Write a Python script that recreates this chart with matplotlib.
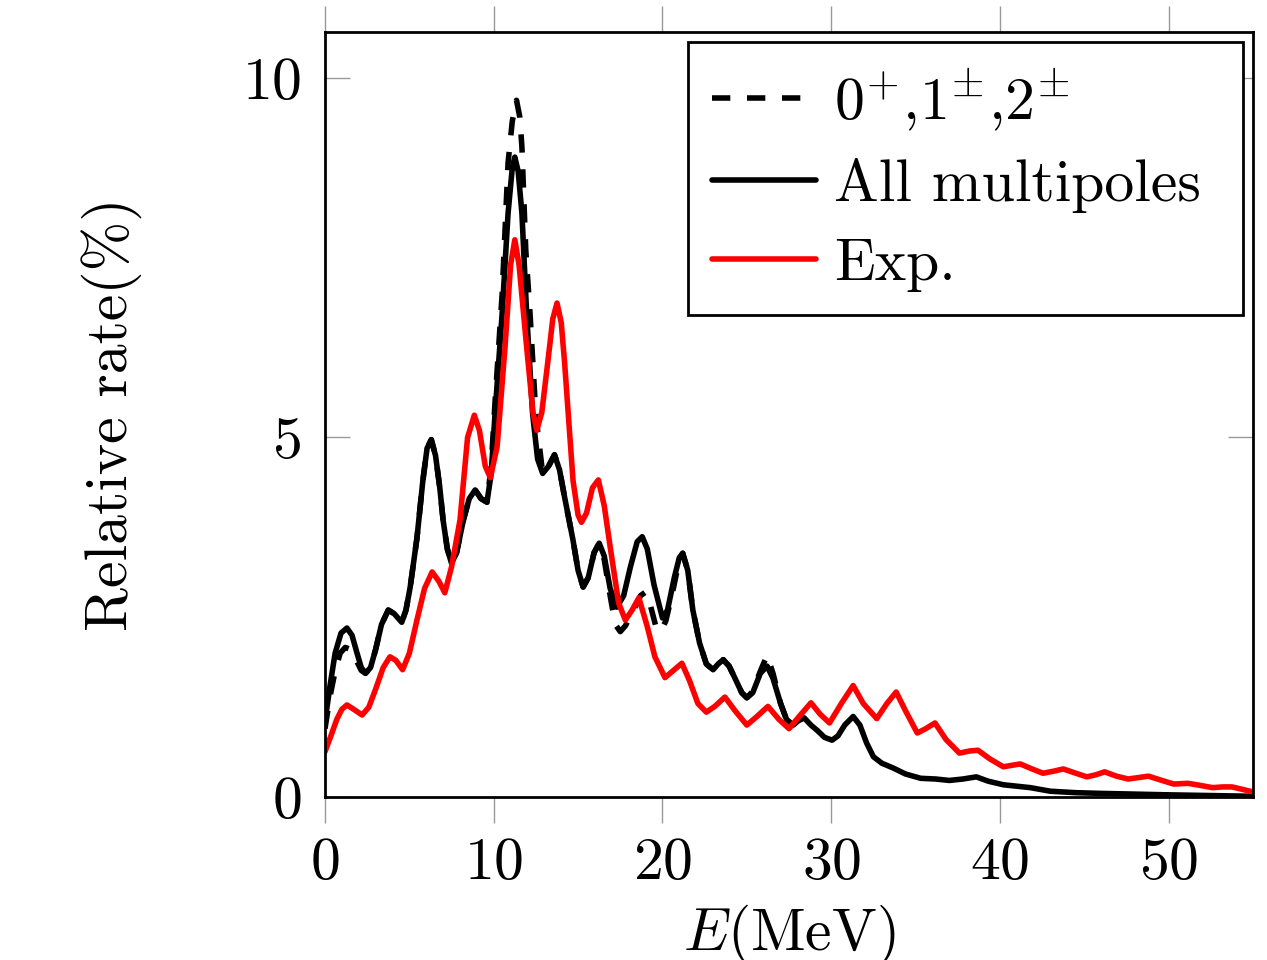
import matplotlib
matplotlib.use("Agg")
import matplotlib.pyplot as plt

plt.rcParams['font.family'] = 'serif'
plt.rcParams['font.serif'] = ['cmr10']
plt.rcParams['mathtext.fontset'] = 'cm'
plt.rcParams['axes.formatter.use_mathtext'] = True

# All multipoles (solid black)
E_all = [0.0, 0.3, 0.6, 0.95, 1.3, 1.6, 1.9, 2.15, 2.4, 2.7, 3.0, 3.35, 3.75, 4.1, 4.55,
         4.8, 5.05, 5.45, 5.8, 6.05, 6.3, 6.55, 6.8, 7.0, 7.25, 7.5, 7.8, 8.2, 8.55, 8.9,
         9.25, 9.6, 9.85, 10.08, 10.5, 10.85, 11.1, 11.25, 11.45, 11.67, 11.95, 12.3,
         12.6, 12.9, 13.25, 13.6, 13.9, 14.2, 14.7, 15.0, 15.3, 15.6, 15.95, 16.25, 16.55,
         16.9, 17.3, 17.7, 18.1, 18.5, 18.8, 19.1, 19.5, 20.0, 20.3, 20.7, 21.0, 21.2,
         21.5, 21.8, 22.2, 22.6, 23.0, 23.3, 23.6, 23.95, 24.3, 24.7, 25.0, 25.35, 25.8,
         26.2, 26.55, 27.0, 27.35, 27.75, 28.05, 28.4, 28.8, 29.2, 29.6, 30.05, 30.4,
         30.8, 31.3, 31.7, 32.1, 32.5, 33.0, 33.7, 34.4, 35.3, 36.2, 37.0, 37.8, 38.6,
         39.3, 40.2, 41.0, 41.8, 43.0, 44.5, 46.0, 48.0, 50.0, 52.5, 55.0]
v_all = [1.05, 1.55, 2.0, 2.28, 2.35, 2.25, 2.0, 1.8, 1.72, 1.8, 2.05, 2.4, 2.6, 2.55, 2.43,
         2.6, 2.92, 3.6, 4.4, 4.85, 4.97, 4.75, 4.31, 3.85, 3.45, 3.25, 3.4, 3.85, 4.15, 4.27,
         4.15, 4.1, 4.5, 5.34, 6.73, 8.12, 8.75, 8.9, 8.7, 8.12, 6.73, 5.34,
         4.7, 4.5, 4.6, 4.76, 4.55, 4.17, 3.57, 3.15, 2.92, 3.05, 3.4, 3.53, 3.35,
         2.9, 2.64, 2.8, 3.2, 3.55, 3.62, 3.45, 2.95, 2.49, 2.6, 3.05, 3.33, 3.39,
         3.15, 2.6, 2.14, 1.85, 1.77, 1.85, 1.91, 1.82, 1.65, 1.45, 1.38, 1.45, 1.72,
         1.82, 1.65, 1.3, 1.08, 1.0, 1.06, 1.1, 1.0, 0.92, 0.83, 0.79, 0.85,
         1.0, 1.12, 1.0, 0.75, 0.56, 0.47, 0.4, 0.32, 0.26, 0.25, 0.23, 0.25, 0.28,
         0.22, 0.17, 0.15, 0.13, 0.08, 0.06, 0.05, 0.04, 0.03, 0.02, 0.01]

# 0+, 1±, 2± channels only (dashed black)
E_low = [0.0, 0.3, 0.6, 0.9, 1.2, 1.55, 1.9, 2.15, 2.4, 2.7, 3.0, 3.35, 3.75, 4.1, 4.55,
         4.8, 5.05, 5.45, 5.8, 6.05, 6.3, 6.55, 6.8, 7.0, 7.25, 7.5, 7.8, 8.2, 8.55, 8.9,
         9.25, 9.6, 9.85, 10.08, 10.5, 10.85, 11.1, 11.35, 11.55, 11.67, 11.9, 12.15, 12.5,
         12.9, 13.25, 13.6, 13.9, 14.2, 14.7, 15.0, 15.3, 15.6, 15.95, 16.25, 16.55,
         16.9, 17.2, 17.5, 17.8, 18.3, 18.7, 19.0, 19.3, 19.6, 19.9, 20.2, 20.6, 21.0,
         21.2, 21.5, 21.8, 22.2, 22.6, 23.0, 23.3, 23.6, 23.95, 24.3, 24.7, 25.0, 25.35,
         25.8, 26.2, 26.55, 27.0, 27.35, 27.75]
v_low = [0.95, 1.4, 1.75, 2.0, 2.08, 2.05, 1.88, 1.76, 1.72, 1.8, 2.05, 2.4, 2.6, 2.55, 2.43,
         2.6, 2.92, 3.6, 4.4, 4.85, 4.97, 4.75, 4.31, 3.85, 3.45, 3.25, 3.4, 3.85, 4.15, 4.27,
         4.15, 4.1, 4.6, 5.5, 7.0, 8.82, 9.4, 9.69, 9.45, 9.04, 7.6, 6.73, 5.3,
         4.5, 4.6, 4.76, 4.55, 4.17, 3.57, 3.15, 2.92, 3.05, 3.4, 3.53, 3.3,
         2.8, 2.4, 2.3, 2.38, 2.6, 2.8, 2.85, 2.65, 2.38, 2.3, 2.45, 2.85, 3.3,
         3.39, 3.15, 2.6, 2.14, 1.85, 1.77, 1.85, 1.91, 1.82, 1.65, 1.45, 1.38, 1.47,
         1.75, 1.97, 1.72, 1.3, 1.08, 1.0]

# Experiment (red)
E_exp = [0.0, 0.35, 0.7, 1.0, 1.3, 1.7, 2.2, 2.6, 3.0, 3.45, 3.85, 4.2, 4.6, 5.0, 5.45,
         5.9, 6.35, 6.75, 7.1, 7.5, 8.0, 8.45, 8.85, 9.15, 9.5, 9.8, 10.2, 10.67, 11.0,
         11.25, 11.5, 11.95, 12.33, 12.55, 12.85, 13.2, 13.5, 13.75, 14.0, 14.2, 14.7,
         15.0, 15.2, 15.5, 15.85, 16.2, 16.55, 16.9, 17.4, 17.8, 18.2, 18.6, 19.1, 19.55,
         20.15, 20.6, 21.15, 21.6, 22.1, 22.6, 23.1, 23.7, 24.3, 25.0, 25.6, 26.25, 26.9,
         27.5, 28.1, 28.8, 29.35, 29.9, 30.6, 31.3, 31.9, 32.7, 33.3, 33.85, 34.4, 35.1,
         35.6, 36.15, 36.8, 37.6, 38.2, 38.7, 39.4, 40.2, 40.7, 41.2, 41.9, 42.55, 43.2,
         43.75, 44.5, 45.15, 45.7, 46.2, 46.9, 47.6, 48.2, 48.8, 49.6, 50.3, 51.15, 51.9,
         52.6, 53.2, 53.75, 54.3, 55.0]
v_exp = [0.63, 0.85, 1.08, 1.22, 1.28, 1.22, 1.14, 1.25, 1.5, 1.8, 1.95, 1.9, 1.77, 2.0, 2.46,
         2.9, 3.13, 3.0, 2.84, 3.2, 3.85, 5.0, 5.31, 5.1, 4.6, 4.44, 4.87, 6.26, 7.4,
         7.75, 7.4, 6.26, 5.34, 5.1, 5.35, 6.04, 6.65, 6.87, 6.6, 6.04, 4.4,
         3.92, 3.82, 3.95, 4.3, 4.41, 4.05, 3.48, 2.7, 2.46, 2.6, 2.77, 2.37, 1.95,
         1.66, 1.75, 1.86, 1.62, 1.3, 1.18, 1.26, 1.39, 1.2, 1.0, 1.12, 1.26, 1.08,
         0.95, 1.12, 1.31, 1.15, 1.03, 1.3, 1.55, 1.3, 1.09, 1.3, 1.46, 1.2, 0.89,
         0.95, 1.03, 0.8, 0.61, 0.64, 0.65, 0.53, 0.42, 0.44, 0.46, 0.39, 0.33, 0.36,
         0.39, 0.33, 0.28, 0.31, 0.35, 0.29, 0.25, 0.27, 0.29, 0.23, 0.18, 0.19, 0.16,
         0.13, 0.14, 0.14, 0.11, 0.07]

xticks = [0, 10, 20, 30, 40, 50]
yticks = [0, 5, 10]

FS = 43
LW = 4.0

fig = plt.figure(figsize=(12.67, 9.6), dpi=100)
ax = fig.add_axes([0.2565, 0.1698, 0.7325, 0.7969])

line_kw = dict(lw=LW, solid_joinstyle='round', dash_joinstyle='round', solid_capstyle='round')
ax.plot(E_low, v_low, color='black', ls=(0, (3.3, 3.0)), label=r'$0^{+}$,$1^{\pm}$,$2^{\pm}$', **line_kw)
ax.plot(E_all, v_all, color='black', label='All multipoles', **line_kw)
ax.plot(E_exp, v_exp, color='red', label='Exp.', **line_kw)

ax.set_xlim(0, 55)
ax.set_ylim(0, 10.64)
ax.set_xticks(xticks)
ax.set_yticks(yticks)

# x ticks stick out of the frame, y ticks point inside
ax.tick_params(axis='x', direction='out', length=19, width=1, color='#999999',
               top=True, bottom=True, labelsize=FS, pad=10)
ax.tick_params(axis='y', direction='in', length=18, width=1, color='#999999',
               left=True, right=True, labelsize=FS, pad=17)
for s in ax.spines.values():
    s.set_linewidth(2)

ax.set_xlabel(r'$E$(MeV)', fontsize=FS, labelpad=8)
ax.set_ylabel('Relative rate(%)', fontsize=FS, labelpad=72)

# legend box stretched over a fixed span, entries sit at its left side
leg = ax.legend(loc='upper left', bbox_to_anchor=(0.391, 0.629, 0.598, 0.358), mode='expand',
                fontsize=FS, frameon=True, fancybox=False, edgecolor='black', framealpha=1,
                handlelength=1.75, handletextpad=0.3, labelspacing=0.42,
                borderpad=0.4, borderaxespad=0)
leg.get_frame().set_linewidth(2)

fig.savefig('out.png', dpi=100)
